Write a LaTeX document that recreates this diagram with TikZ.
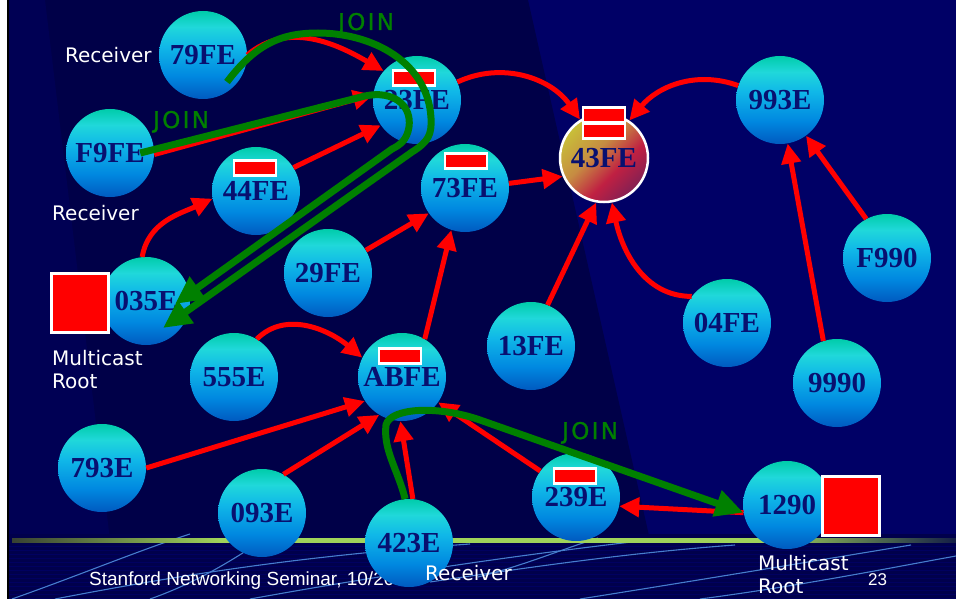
\documentclass[tikz,border=0pt]{standalone}
\usepackage{fontspec}
\setmainfont{Liberation Serif}
\newfontfamily\lblfont{DejaVu Sans}
\newfontfamily\joinfont[LetterSpace=10,FakeBold=1.2]{DejaVu Sans}
\newfontfamily\footfont{Liberation Sans}
\usetikzlibrary{arrows.meta,positioning}
\definecolor{bgnavy}{RGB}{0,0,102}
\definecolor{bgdeep}{RGB}{0,0,72}
\definecolor{bgside}{RGB}{0,0,84}
\definecolor{bgband}{RGB}{0,0,76}
\definecolor{bgline}{RGB}{0,0,96}
\definecolor{swoosh}{RGB}{70,125,205}
\definecolor{peertext}{RGB}{8,16,112}
\definecolor{joingreen}{RGB}{0,128,0}
\definecolor{balltop}{RGB}{0,204,170}
\definecolor{ballcyan}{RGB}{32,216,218}
\definecolor{ballmid}{RGB}{16,184,232}
\definecolor{balllow}{RGB}{0,136,224}
\definecolor{ballbot}{RGB}{0,90,192}
\definecolor{hotyellow}{RGB}{200,192,56}
\definecolor{hotorange}{RGB}{198,140,66}
\definecolor{hotred}{RGB}{192,32,66}
\definecolor{hotdark}{RGB}{130,32,84}
\definecolor{ruledark}{RGB}{55,65,50}
\definecolor{rulebright}{RGB}{160,212,90}
\definecolor{rulefade}{RGB}{20,30,70}
\pgfdeclareverticalshading{ballshade}{100bp}{color(0bp)=(ballbot); color(25bp)=(ballbot); color(38bp)=(balllow); color(55bp)=(ballmid); color(66bp)=(ballcyan); color(75bp)=(balltop); color(100bp)=(balltop)}
\pgfdeclareverticalshading{hotshade}{100bp}{color(0bp)=(hotdark); color(25bp)=(hotdark); color(40bp)=(hotred); color(56bp)=(hotorange); color(75bp)=(hotyellow); color(100bp)=(hotyellow)}
\pgfdeclarehorizontalshading{ruleshade}{100bp}{color(0bp)=(ruledark); color(25bp)=(ruledark); color(36bp)=(rulebright); color(65bp)=(rulebright); color(75bp)=(rulefade); color(100bp)=(rulefade)}

\begin{document}
\begin{tikzpicture}[x=1pt,y=1pt,
		peer/.style={circle,minimum size=88pt,inner sep=0pt,shading=ballshade,text=peertext,font=\bfseries\fontsize{29}{29}\selectfont},
		hot/.style={peer,shading=hotshade,shading angle=45,draw=white,line width=2.5pt},
		flagbox/.style={draw=white,line width=2.5pt,fill=red,minimum width=42pt,minimum height=15pt,inner sep=0pt},
		rootsq/.style={draw=white,line width=3pt,fill=red,minimum width=57pt,minimum height=59pt,inner sep=0pt},
		note/.style={text=white,font=\lblfont\fontsize{20}{23.5}\selectfont,inner sep=0pt,align=left},
		joinlbl/.style={text=joingreen,font=\joinfont\fontsize{23}{23}\selectfont,inner sep=0pt},
		feed/.style={draw=red,line width=5pt,-{Triangle[length=20pt,width=19pt]}},
		joinarr/.style={draw=joingreen,line width=7pt,line join=round,-{Triangle[length=28pt,width=26pt]}}
	]
	\useasboundingbox (0,0) rectangle (956,-599);
	\fill[white] (0,0) rectangle (956,-599);
	\fill[black] (6.5,0) rectangle (9,-599);
	\fill[bgnavy] (9,0) rectangle (956,-599);
	\fill[bgdeep] (9,0) -- (528,0) -- (650,-540) -- (9,-540) -- cycle;
	\fill[bgside] (9,0) -- (45,0) -- (110,-540) -- (9,-540) -- cycle;
	\fill[bgband] (9,-534) rectangle (956,-599);
	\foreach \y in {546,550,...,598}
		\draw[bgline,line width=0.8pt] (9,-\y) -- (956,-\y);
	\begin{scope}[swoosh,line width=1.1pt]
		\draw (12,-599) .. controls (80,-575) and (140,-550) .. (190,-534);
		\draw (55,-599) .. controls (180,-575) and (300,-556) .. (470,-544);
		\draw (150,-599) .. controls (190,-585) and (225,-565) .. (255,-545);
		\draw (250,-599) .. controls (400,-572) and (520,-555) .. (640,-541);
		\draw (430,-582) .. controls (550,-564) and (640,-552) .. (735,-545);
		\draw (478,-577) .. controls (525,-565) and (560,-550) .. (598,-538);
		\draw (580,-599) .. controls (700,-580) and (820,-560) .. (911,-545);
		\draw (700,-599) .. controls (800,-586) and (900,-566) .. (956,-556);
	\end{scope}
	\shade[shading=ruleshade] (12,-538.5) rectangle (956,-542);
	\node[text=white,font=\footfont\fontsize{19}{19}\selectfont,inner sep=0pt,anchor=base west] (foot) at (89,-585) {Stanford Networking Seminar, 10/20};
	\node[text=white,font=\footfont\fontsize{17}{17}\selectfont,inner sep=0pt,anchor=base west] (page) at (868,-585) {23};

	\node[peer] (n79FE) at (203,-55) {79FE};
	\node[peer] (n23FE) at (417,-100) {23FE};
	\node[peer] (nF9FE) at (110,-153) {F9FE};
	\node[peer] (n44FE) at (256,-191) {44FE};
	\node[peer] (n73FE) at (465,-188) {73FE};
	\node[peer] (n29FE) at (328,-273) {29FE};
	\node[hot] (n43FE) at (604,-158) {43FE};
	\node[peer] (n993E) at (780,-100) {993E};
	\node[peer] (nF990) at (887,-258) {F990};
	\node[peer] (n035E) at (146,-301) {035E};
	\node[peer] (n555E) at (234,-377) {555E};
	\node[peer] (nABFE) at (402,-377) {ABFE};
	\node[peer] (n13FE) at (531,-346) {13FE};
	\node[peer] (n04FE) at (727,-323) {04FE};
	\node[peer] (n9990) at (837,-383) {9990};
	\node[peer] (n793E) at (102,-468) {793E};
	\node[peer] (n093E) at (262,-513) {093E};
	\node[peer] (n423E) at (409,-543) {423E};
	\node[peer] (n239E) at (576,-497) {239E};
	\node[peer] (n1290) at (787,-505) {1290};

	\node[flagbox] (f23FE) at ([shift={(-3pt,22pt)}]n23FE.center) {};
	\node[flagbox] (f44FE) at ([shift={(-1pt,23pt)}]n44FE.center) {};
	\node[flagbox] (f73FE) at ([shift={(1pt,27pt)}]n73FE.center) {};
	\node[flagbox] (fABFE) at ([shift={(-2pt,21pt)}]nABFE.center) {};
	\node[flagbox] (f239E) at ([shift={(-1pt,21pt)}]n239E.center) {};
	\node[flagbox] (f43FEa) at ([yshift=43pt]n43FE.center) {};
	\node[flagbox] (f43FEb) at ([yshift=27pt]n43FE.center) {};
	\node[rootsq] (srcA) at (80,-303) {};
	\node[rootsq] (srcB) at (851,-505.5) {};

	\draw[feed] (n79FE.0) to[out=40,in=150] (n23FE.139);
	\draw[feed] (nF9FE.-2) -- (n23FE.173);
	\draw[feed] (n44FE.32) -- (n23FE.215);
	\draw[feed] (n035E.95) to[out=80,in=205] (n44FE.190);
	\draw[feed] (n23FE.24) to[out=25,in=125] (n43FE.122);
	\draw[feed] (n993E.161) to[out=160,in=50] (n43FE.56);
	\draw[feed] (n73FE.6) -- (n43FE.204);
	\draw[feed] (n29FE.31) -- (n73FE.215);
	\draw[feed] (nABFE.59) -- (n73FE.252);
	\draw[feed] (n13FE.68) -- (n43FE.260);
	\draw[feed] (n04FE.143) to[out=180,in=-78] (n43FE.280);
	\draw[feed] (n9990.108) -- (n993E.280);
	\draw[feed] (nF990.118) -- (n993E.306);
	\draw[feed] (n555E.59) to[out=45,in=140] (nABFE.154);
	\draw[feed] (n793E.0) -- (nABFE.213);
	\draw[feed] (n093E.61) -- (nABFE.239);
	\draw[feed] (n423E.85) -- (nABFE.268);
	\draw[feed] (n239E.144) -- (nABFE.325);
	\draw[feed] (n1290.190) -- (n239E.348);

	\node[note,left=7pt of n79FE] (rcvA) {Receiver};
	\node[note,anchor=base west] (rcvB) at (52,-220) {Receiver};
	\node[note,anchor=base west] (rcvC) at (425,-580) {Receiver};
	\node[note,anchor=north west] (rootA) at (52,-350) {Multicast\\Root};
	\node[note,anchor=north west] (rootB) at (758,-555) {Multicast\\Root};
	\node[joinlbl,anchor=base west] (joinA) at (338,-30) {JOIN};
	\node[joinlbl,anchor=base west] (joinB) at (153,-128) {JOIN};
	\node[joinlbl,anchor=base west] (joinC) at (562,-439) {JOIN};

	\coordinate (tipA) at ([shift={(17pt,-27pt)}]n035E.center);
	\coordinate (tipB) at ([shift={(29pt,-3pt)}]n035E.center);
	\draw[joinarr] ([shift={(24pt,-27pt)}]n79FE.center) .. controls (255,-45) and (280,-33) .. (318,-33) .. controls (372,-33) and (428,-62) .. (431,-118) .. controls (432,-135) and (428,-142) .. (412,-152) -- (tipA);
	\draw[joinarr] ([xshift=-14pt]nF9FE.east) -- (365,-96) .. controls (393,-90) and (412,-105) .. (409,-127) .. controls (407,-140) and (400,-145) .. (392,-149) -- (tipB);
	\draw[joinarr] (n423E.95) .. controls (398,-470) and (383,-450) .. (386,-425) .. controls (390,-408) and (437,-405) .. (480,-420) -- (n1290.190);
\end{tikzpicture}
\end{document}
